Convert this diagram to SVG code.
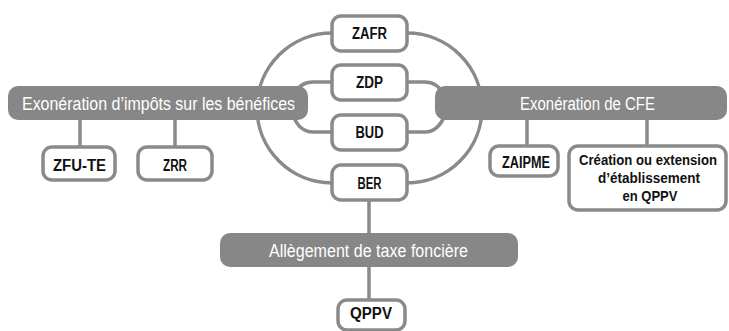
<svg xmlns="http://www.w3.org/2000/svg" width="729" height="331" viewBox="0 0 729 331">
<style>
.bg{fill:#ffffff}
.conn{fill:none;stroke:#8a8a8a;stroke-width:3.5}
.box{fill:#ffffff;stroke:#8a8a8a;stroke-width:3.5}
.bar{fill:#878787}
.lbl{font-family:"Liberation Sans",Arial,sans-serif;font-weight:bold;font-size:16px;fill:#111111;text-anchor:middle}
.lbl2{font-family:"Liberation Sans",Arial,sans-serif;font-weight:bold;font-size:14px;fill:#111111;text-anchor:middle}
.blbl{font-family:"Liberation Sans",Arial,sans-serif;font-size:18px;fill:#ffffff;text-anchor:middle}
</style>
<rect class="bg" x="0" y="0" width="729" height="331"/>
<g id="connectors">
  <path class="conn" d="M332,33 A75,75 0 0 0 332,183"/>
  <path class="conn" d="M407,33 A75,75 0 0 1 407,183"/>
  <path class="conn" d="M332,82 H313 Q300,82 295,94"/>
  <path class="conn" d="M332,132 H313 Q299,132 293,115"/>
  <path class="conn" d="M407,82 H425 Q437,82 443,94"/>
  <path class="conn" d="M407,132 H425 Q438,132 445,115"/>
  <path class="conn" d="M80,118 V148"/>
  <path class="conn" d="M175,118 V148"/>
  <path class="conn" d="M527,118 V147"/>
  <path class="conn" d="M647,118 V147"/>
  <path class="conn" d="M369,200 V235"/>
  <path class="conn" d="M369,265 V301"/>
</g>
<g id="bar-ir">
  <rect class="bar" x="8" y="86" width="300" height="34" rx="10"/>
  <text class="blbl" x="158.5" y="109.5" textLength="273" lengthAdjust="spacingAndGlyphs">Exonération d’impôts sur les bénéfices</text>
</g>
<g id="bar-cfe">
  <rect class="bar" x="435" y="86" width="292" height="34" rx="10"/>
  <text class="blbl" x="587.5" y="109.5" textLength="135" lengthAdjust="spacingAndGlyphs">Exonération de CFE</text>
</g>
<g id="bar-tf">
  <rect class="bar" x="220" y="233" width="298" height="34" rx="10"/>
  <text class="blbl" x="368.5" y="256.5" textLength="199" lengthAdjust="spacingAndGlyphs">Allègement de taxe foncière</text>
</g>
<g id="zafr">
  <rect class="box" x="332" y="16" width="75" height="35" rx="9"/>
  <text class="lbl" x="369.5" y="39" textLength="35" lengthAdjust="spacingAndGlyphs">ZAFR</text>
</g>
<g id="zdp">
  <rect class="box" x="332" y="65" width="75" height="35" rx="9"/>
  <text class="lbl" x="369.5" y="88" textLength="27" lengthAdjust="spacingAndGlyphs">ZDP</text>
</g>
<g id="bud">
  <rect class="box" x="332" y="115" width="75" height="35" rx="9"/>
  <text class="lbl" x="369.5" y="138" textLength="28" lengthAdjust="spacingAndGlyphs">BUD</text>
</g>
<g id="ber">
  <rect class="box" x="332" y="165" width="75" height="35" rx="9"/>
  <text class="lbl" x="369.5" y="188.5" textLength="24" lengthAdjust="spacingAndGlyphs">BER</text>
</g>
<g id="zfu-te">
  <rect class="box" x="43" y="147" width="72" height="33" rx="9"/>
  <text class="lbl" x="79.5" y="171" textLength="53" lengthAdjust="spacingAndGlyphs">ZFU-TE</text>
</g>
<g id="zrr">
  <rect class="box" x="138" y="147" width="74" height="33" rx="9"/>
  <text class="lbl" x="175" y="171" textLength="24" lengthAdjust="spacingAndGlyphs">ZRR</text>
</g>
<g id="zaipme">
  <rect class="box" x="490" y="146" width="68" height="30" rx="9"/>
  <text class="lbl" x="526" y="167.5" textLength="48" lengthAdjust="spacingAndGlyphs">ZAIPME</text>
</g>
<g id="creation">
  <rect class="box" x="569" y="146" width="157" height="64" rx="9"/>
  <text class="lbl2" x="648" y="165" textLength="138" lengthAdjust="spacingAndGlyphs">Création ou extension</text>
  <text class="lbl2" x="649" y="183" textLength="102" lengthAdjust="spacingAndGlyphs">d’établissement</text>
  <text class="lbl2" x="650" y="201" textLength="55" lengthAdjust="spacingAndGlyphs">en QPPV</text>
</g>
<g id="qppv">
  <rect class="box" x="338" y="300" width="67" height="30" rx="9"/>
  <text class="lbl" x="371" y="319" textLength="42" lengthAdjust="spacingAndGlyphs">QPPV</text>
</g>
</svg>
